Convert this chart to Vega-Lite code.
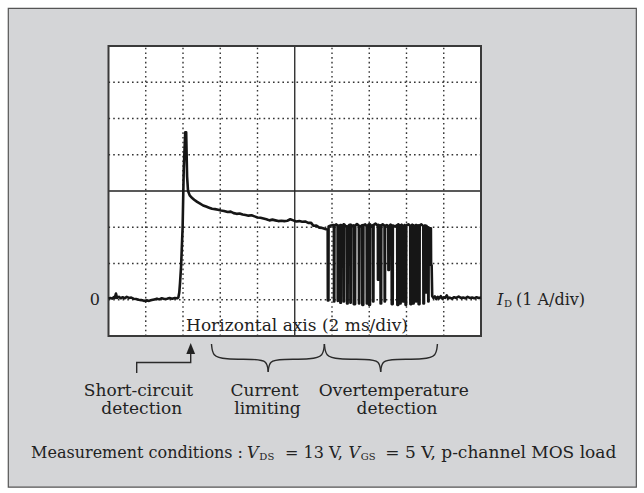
{
"$schema":"https://vega.github.io/schema/vega-lite/v6.json",
"width":372.5,"height":290,
"autosize":"none",
"padding":{"left":108.5,"top":46,"right":163,"bottom":157},
"background":"#ffffff",
"config":{"view":{"stroke":null},"text":{"font":"DejaVu Serif","fill":"#222222"}},
"datasets":{
"panel":[{"x":-2.69,"x2":14.17,"y":8.04,"y2":-5.17}],
"scope":[{"x":0,"x2":10,"y":-1,"y2":7}],
"grid":[
{"kind":"dot","x":1,"x2":1,"y":-1,"y2":7},{"kind":"dot","x":2,"x2":2,"y":-1,"y2":7},{"kind":"dot","x":3,"x2":3,"y":-1,"y2":7},{"kind":"dot","x":4,"x2":4,"y":-1,"y2":7},{"kind":"solid","x":5,"x2":5,"y":-1,"y2":7},{"kind":"dot","x":6,"x2":6,"y":-1,"y2":7},{"kind":"dot","x":7,"x2":7,"y":-1,"y2":7},{"kind":"dot","x":8,"x2":8,"y":-1,"y2":7},{"kind":"dot","x":9,"x2":9,"y":-1,"y2":7},
{"kind":"dot","x":0,"x2":10,"y":0,"y2":0},{"kind":"dot","x":0,"x2":10,"y":1,"y2":1},{"kind":"dot","x":0,"x2":10,"y":2,"y2":2},{"kind":"solid","x":0,"x2":10,"y":3,"y2":3},{"kind":"dot","x":0,"x2":10,"y":4,"y2":4},{"kind":"dot","x":0,"x2":10,"y":5,"y2":5},{"kind":"dot","x":0,"x2":10,"y":6,"y2":6}
],
"trace":[
{"x":0,"y":0.03},{"x":0.05,"y":0.05},{"x":0.1,"y":0.03},{"x":0.14,"y":0.07},{"x":0.17,"y":0.05},{"x":0.2,"y":0.17},{"x":0.23,"y":0.05},{"x":0.28,"y":0.08},{"x":0.33,"y":0.04},{"x":0.38,"y":0.07},{"x":0.43,"y":0.04},{"x":0.49,"y":0.08},{"x":0.55,"y":0.05},{"x":0.61,"y":0.06},{"x":0.67,"y":0.03},{"x":0.74,"y":0.02},{"x":0.81,"y":0.0},{"x":0.88,"y":-0.01},{"x":0.95,"y":-0.03},{"x":1.02,"y":-0.02},{"x":1.09,"y":-0.03},{"x":1.16,"y":-0.01},{"x":1.23,"y":0.01},{"x":1.3,"y":0.03},{"x":1.36,"y":0.01},{"x":1.43,"y":0.04},{"x":1.5,"y":0.02},{"x":1.57,"y":0.03},{"x":1.64,"y":0.05},{"x":1.71,"y":0.03},{"x":1.78,"y":0.05},{"x":1.85,"y":0.04},{"x":1.875,"y":0.06},
{"x":1.9,"y":0.2},{"x":1.92,"y":0.46},{"x":1.95,"y":0.95},{"x":1.99,"y":2.0},{"x":2.02,"y":3.6},{"x":2.06,"y":4.62},{"x":2.085,"y":4.62},{"x":2.11,"y":3.4},{"x":2.135,"y":3.0},{"x":2.18,"y":2.88},{"x":2.23,"y":2.82},{"x":2.3,"y":2.76},{"x":2.38,"y":2.7},{"x":2.46,"y":2.65},{"x":2.54,"y":2.6},{"x":2.62,"y":2.57},{"x":2.7,"y":2.54},{"x":2.78,"y":2.51},{"x":2.86,"y":2.5},{"x":2.94,"y":2.48},{"x":3.02,"y":2.46},{"x":3.1,"y":2.45},{"x":3.2,"y":2.42},{"x":3.28,"y":2.43},{"x":3.36,"y":2.39},{"x":3.44,"y":2.37},{"x":3.52,"y":2.38},{"x":3.6,"y":2.35},{"x":3.68,"y":2.34},{"x":3.76,"y":2.32},{"x":3.84,"y":2.33},{"x":3.92,"y":2.3},{"x":4.0,"y":2.27},{"x":4.08,"y":2.26},{"x":4.16,"y":2.24},{"x":4.24,"y":2.22},{"x":4.32,"y":2.19},{"x":4.4,"y":2.21},{"x":4.48,"y":2.19},{"x":4.56,"y":2.17},{"x":4.64,"y":2.18},{"x":4.72,"y":2.17},{"x":4.8,"y":2.18},{"x":4.88,"y":2.22},{"x":4.96,"y":2.19},{"x":5.04,"y":2.16},{"x":5.12,"y":2.17},{"x":5.2,"y":2.15},{"x":5.28,"y":2.16},{"x":5.36,"y":2.12},{"x":5.44,"y":2.12},{"x":5.5,"y":2.04},{"x":5.58,"y":2.05},{"x":5.66,"y":1.99},{"x":5.74,"y":1.98},{"x":5.82,"y":1.95},{"x":5.86,"y":1.94},
{"x":5.884,"y":1.93},{"x":5.888,"y":-0.02},{"x":5.904,"y":-0.02},{"x":5.908,"y":2.02},{"x":5.97,"y":2.05},
{"x":6.05,"y":2.06},{"x":6.054,"y":-0.05},{"x":6.062,"y":-0.05},{"x":6.066,"y":2.04},{"x":6.11,"y":2.08},
{"x":6.15,"y":2.05},{"x":6.154,"y":-0.03},{"x":6.162,"y":-0.03},{"x":6.166,"y":2.05},{"x":6.19,"y":2.02},
{"x":6.22,"y":2.06},{"x":6.224,"y":-0.08},{"x":6.24,"y":-0.08},{"x":6.244,"y":2.06},{"x":6.28,"y":2.03},
{"x":6.31,"y":2.08},{"x":6.314,"y":-0.05},{"x":6.322,"y":-0.05},{"x":6.326,"y":2.08},{"x":6.36,"y":2.04},
{"x":6.4,"y":2.02},{"x":6.404,"y":-0.1},{"x":6.42,"y":-0.1},{"x":6.424,"y":2.02},{"x":6.46,"y":2.06},
{"x":6.49,"y":2.07},{"x":6.494,"y":-0.08},{"x":6.502,"y":-0.08},{"x":6.506,"y":2.07},{"x":6.54,"y":2.03},
{"x":6.58,"y":2.05},{"x":6.584,"y":-0.12},{"x":6.62,"y":-0.12},{"x":6.624,"y":2.05},{"x":6.67,"y":2.09},
{"x":6.72,"y":2.04},{"x":6.724,"y":-0.1},{"x":6.732,"y":-0.1},{"x":6.736,"y":2.04},{"x":6.77,"y":2.02},
{"x":6.81,"y":2.06},{"x":6.814,"y":-0.14},{"x":6.84,"y":-0.14},{"x":6.844,"y":2.06},{"x":6.89,"y":2.08},
{"x":6.93,"y":2.03},{"x":6.934,"y":-0.1},{"x":6.942,"y":-0.1},{"x":6.946,"y":2.03},{"x":6.965,"y":2.05},
{"x":6.99,"y":2.08},{"x":6.994,"y":-0.14},{"x":7.02,"y":-0.14},{"x":7.024,"y":2.08},{"x":7.06,"y":2.02},
{"x":7.1,"y":2.06},{"x":7.104,"y":-0.05},{"x":7.112,"y":-0.05},{"x":7.116,"y":2.06},{"x":7.17,"y":2.1},
{"x":7.23,"y":2.04},{"x":7.234,"y":0.55},{"x":7.242,"y":0.55},{"x":7.246,"y":2.07},{"x":7.27,"y":2.03},
{"x":7.3,"y":2.05},{"x":7.304,"y":-0.1},{"x":7.32,"y":-0.1},{"x":7.324,"y":2.05},{"x":7.36,"y":2.08},
{"x":7.41,"y":2.04},{"x":7.414,"y":-0.05},{"x":7.422,"y":-0.05},{"x":7.426,"y":2.04},{"x":7.47,"y":2.06},
{"x":7.51,"y":2.03},{"x":7.514,"y":0.82},{"x":7.53,"y":0.82},{"x":7.534,"y":2.03},{"x":7.57,"y":2.07},
{"x":7.6,"y":2.05},{"x":7.604,"y":-0.12},{"x":7.63,"y":-0.12},{"x":7.634,"y":2.05},{"x":7.69,"y":2.02},
{"x":7.75,"y":2.06},{"x":7.754,"y":-0.14},{"x":7.78,"y":-0.14},{"x":7.784,"y":2.08},{"x":7.81,"y":2.03},
{"x":7.83,"y":2.05},{"x":7.834,"y":-0.1},{"x":7.842,"y":-0.1},{"x":7.846,"y":2.05},{"x":7.87,"y":2.07},
{"x":7.9,"y":2.02},{"x":7.904,"y":-0.05},{"x":7.92,"y":-0.05},{"x":7.924,"y":2.02},{"x":7.945,"y":2.06},
{"x":7.97,"y":2.05},{"x":7.974,"y":-0.14},{"x":7.99,"y":-0.14},{"x":7.994,"y":2.05},{"x":8.05,"y":2.08},
{"x":8.1,"y":2.04},{"x":8.104,"y":-0.12},{"x":8.13,"y":-0.12},{"x":8.134,"y":2.04},{"x":8.155,"y":2.07},
{"x":8.18,"y":2.05},{"x":8.184,"y":-0.1},{"x":8.192,"y":-0.1},{"x":8.196,"y":2.05},{"x":8.22,"y":2.02},
{"x":8.25,"y":2.06},{"x":8.254,"y":-0.05},{"x":8.262,"y":-0.05},{"x":8.266,"y":2.06},{"x":8.29,"y":2.04},
{"x":8.32,"y":2.05},{"x":8.324,"y":-0.12},{"x":8.35,"y":-0.12},{"x":8.354,"y":2.05},{"x":8.4,"y":2.08},
{"x":8.45,"y":2.03},{"x":8.454,"y":-0.1},{"x":8.47,"y":-0.1},{"x":8.474,"y":2.03},{"x":8.495,"y":2.05},
{"x":8.52,"y":2.02},{"x":8.524,"y":0.2},{"x":8.532,"y":0.2},{"x":8.536,"y":2.04},{"x":8.555,"y":2.0},
{"x":8.58,"y":2.0},{"x":8.584,"y":-0.05},{"x":8.592,"y":-0.05},{"x":8.596,"y":1.98},{"x":8.655,"y":1.97},
{"x":8.66,"y":0.95},{"x":8.675,"y":0.95},{"x":8.69,"y":0.1},{"x":8.72,"y":0.05},
{"x":8.76,"y":0.09},{"x":8.8,"y":0.02},{"x":8.84,"y":0.08},{"x":8.88,"y":0.04},{"x":8.92,"y":0.1},{"x":8.96,"y":0.03},{"x":9.0,"y":0.07},{"x":9.04,"y":0.05},{"x":9.08,"y":0.12},{"x":9.12,"y":0.04},{"x":9.16,"y":0.06},{"x":9.22,"y":0.03},{"x":9.28,"y":0.07},{"x":9.34,"y":0.05},{"x":9.4,"y":0.09},{"x":9.46,"y":0.05},{"x":9.52,"y":0.06},{"x":9.58,"y":0.04},{"x":9.64,"y":0.08},{"x":9.7,"y":0.05},{"x":9.76,"y":0.06},{"x":9.82,"y":0.04},{"x":9.88,"y":0.07},{"x":9.94,"y":0.05},{"x":10.0,"y":0.06}
],
"braces":[
{"seg":"b1L","x":2.765,"y":-1.22},{"seg":"b1L","x":2.795,"y":-1.56},{"seg":"b1L","x":3.1,"y":-1.64},{"seg":"b1L","x":3.94,"y":-1.64},{"seg":"b1L","x":4.257,"y":-1.68},{"seg":"b1L","x":4.287,"y":-1.99},
{"seg":"b1R","x":4.287,"y":-1.99},{"seg":"b1R","x":4.317,"y":-1.68},{"seg":"b1R","x":4.636,"y":-1.64},{"seg":"b1R","x":5.47,"y":-1.64},{"seg":"b1R","x":5.766,"y":-1.56},{"seg":"b1R","x":5.796,"y":-1.22},
{"seg":"b2L","x":5.796,"y":-1.22},{"seg":"b2L","x":5.826,"y":-1.56},{"seg":"b2L","x":6.13,"y":-1.64},{"seg":"b2L","x":6.96,"y":-1.64},{"seg":"b2L","x":7.277,"y":-1.68},{"seg":"b2L","x":7.307,"y":-1.99},
{"seg":"b2R","x":7.307,"y":-1.99},{"seg":"b2R","x":7.337,"y":-1.68},{"seg":"b2R","x":7.66,"y":-1.64},{"seg":"b2R","x":8.5,"y":-1.64},{"seg":"b2R","x":8.8,"y":-1.56},{"seg":"b2R","x":8.83,"y":-1.22}
],
"arrow":[{"i":1,"x":0.757,"y":-2.02},{"i":2,"x":0.757,"y":-1.731},{"i":3,"x":2.207,"y":-1.731},{"i":4,"x":2.207,"y":-1.4}],
"head":[{"x":2.207,"y":-1.345}],
"labels":[
{"role":"c","x":0.805,"y":-2.662,"t":"Short-circuit"},
{"role":"c","x":0.891,"y":-3.159,"t":"detection"},
{"role":"c","x":4.188,"y":-2.662,"t":"Current"},
{"role":"c","x":4.268,"y":-3.159,"t":"limiting"},
{"role":"c","x":7.659,"y":-2.662,"t":"Overtemperature"},
{"role":"c","x":7.745,"y":-3.159,"t":"detection"},
{"role":"c","x":5.06,"y":-0.859,"t":"Horizontal axis (2 ms/div)"},
{"role":"l","x":10.94,"y":-0.145,"t":"(1 A/div)"},
{"role":"l","x":4.74,"y":-4.366,"t":"= 13 V,"},
{"role":"l2","x":7.43,"y":-4.366,"t":"= 5 V, p-channel MOS load"},
{"role":"r","x":3.611,"y":-4.366,"t":"Measurement conditions :"},
{"role":"r","x":-0.228,"y":-0.145,"t":"0"},
{"role":"v","x":10.43,"y":-0.145,"t":"I"},
{"role":"v","x":3.718,"y":-4.366,"t":"V"},
{"role":"v","x":6.44,"y":-4.366,"t":"V"},
{"role":"s","x":10.62,"y":-0.21,"t":"D"},
{"role":"s","x":4.05,"y":-4.43,"t":"DS"},
{"role":"s","x":6.77,"y":-4.43,"t":"GS"}
]
},
"encoding":{
"x":{"field":"x","type":"quantitative","scale":{"domain":[0,10],"nice":false,"zero":false},"axis":null},
"y":{"field":"y","type":"quantitative","scale":{"domain":[-1,7],"nice":false,"zero":false},"axis":null}
},
"layer":[
{"data":{"name":"panel"},"mark":{"type":"rect","fill":"#d4d5d7","stroke":"#555555","strokeWidth":1.2},"encoding":{"x2":{"field":"x2"},"y2":{"field":"y2"}}},
{"data":{"name":"scope"},"mark":{"type":"rect","fill":"#ffffff"},"encoding":{"x2":{"field":"x2"},"y2":{"field":"y2"}}},
{"data":{"name":"grid"},"transform":[{"filter":"datum.kind == 'dot'"}],"mark":{"type":"rule","stroke":"#333333","strokeWidth":1.4,"strokeDash":[1.6,3.1]},"encoding":{"x2":{"field":"x2"},"y2":{"field":"y2"}}},
{"data":{"name":"grid"},"transform":[{"filter":"datum.kind == 'solid'"}],"mark":{"type":"rule","stroke":"#222222","strokeWidth":1.3},"encoding":{"x2":{"field":"x2"},"y2":{"field":"y2"}}},
{"data":{"name":"scope"},"mark":{"type":"rect","fill":null,"stroke":"#3a3a3a","strokeWidth":2},"encoding":{"x2":{"field":"x2"},"y2":{"field":"y2"}}},
{"data":{"name":"trace"},"mark":{"type":"line","color":"#161616","strokeWidth":2.6,"strokeJoin":"round"},"encoding":{}},
{"data":{"name":"braces"},"mark":{"type":"line","color":"#2a2a2a","strokeWidth":1.4,"interpolate":"basis"},"encoding":{"detail":{"field":"seg"}}},
{"data":{"name":"arrow"},"mark":{"type":"line","color":"#2a2a2a","strokeWidth":1.4},"encoding":{"order":{"field":"i","type":"quantitative"}}},
{"data":{"name":"head"},"mark":{"type":"point","shape":"M0,-1L0.8,1L-0.8,1Z","size":121,"filled":true,"color":"#222222","opacity":1},"encoding":{}},
{"data":{"name":"labels"},"transform":[{"filter":"datum.role == 'c'"}],"mark":{"type":"text","fontSize":17,"align":"center","baseline":"alphabetic"},"encoding":{"text":{"field":"t"}}},
{"data":{"name":"labels"},"transform":[{"filter":"datum.role == 'l'"}],"mark":{"type":"text","fontSize":16,"align":"left","baseline":"alphabetic"},"encoding":{"text":{"field":"t"}}},
{"data":{"name":"labels"},"transform":[{"filter":"datum.role == 'l2'"}],"mark":{"type":"text","fontSize":17,"align":"left","baseline":"alphabetic"},"encoding":{"text":{"field":"t"}}},
{"data":{"name":"labels"},"transform":[{"filter":"datum.role == 'r'"}],"mark":{"type":"text","fontSize":16,"align":"right","baseline":"alphabetic"},"encoding":{"text":{"field":"t"}}},
{"data":{"name":"labels"},"transform":[{"filter":"datum.role == 'v'"}],"mark":{"type":"text","fontSize":16,"fontStyle":"italic","align":"left","baseline":"alphabetic"},"encoding":{"text":{"field":"t"}}},
{"data":{"name":"labels"},"transform":[{"filter":"datum.role == 's'"}],"mark":{"type":"text","fontSize":10,"align":"left","baseline":"alphabetic"},"encoding":{"text":{"field":"t"}}}
]
}
